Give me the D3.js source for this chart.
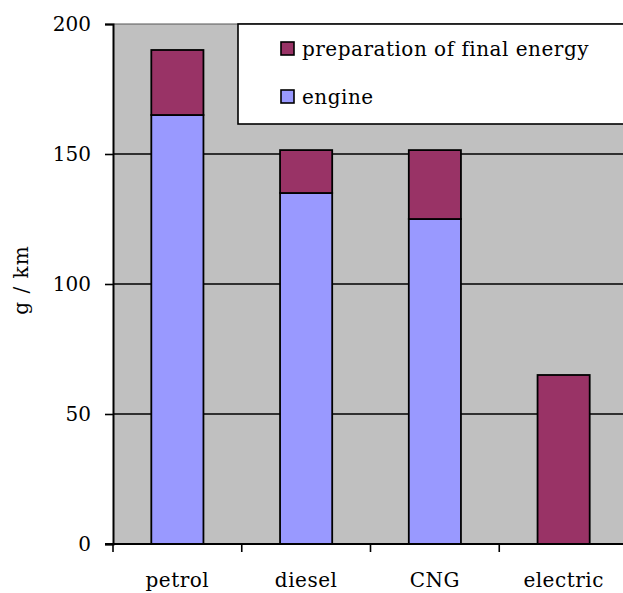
<!DOCTYPE html>
<html><head><meta charset="utf-8">
<script src="https://cdn.jsdelivr.net/npm/d3@7"></script>
<style>
html,body{margin:0;padding:0;background:#fff;}
svg{display:block;}
text{font-family:"DejaVu Serif","Liberation Serif",serif;fill:#000;}
</style></head>
<body>
<svg id="chart" width="623" height="593"></svg>
<script>
const categories = ["petrol", "diesel", "CNG", "electric"];
const engine = [165, 135, 125, 0];
const preparation = [25, 16.5, 26.5, 65];
const seriesNames = ["preparation of final energy", "engine"];
const yTicks = [0, 50, 100, 150, 200];
const yTitle = "g / km";

const svg = d3.select("#chart");
const pLeft = 113, pRight = 628, pTop = 24, pBottom = 544;
const colors = {engine: "#9999ff", preparation: "#993366"};
const FS = 20, LS = 0.5;

const x = d3.scaleBand().domain(categories).range([pLeft, pRight]).paddingInner(0).paddingOuter(0);
const y = d3.scaleLinear().domain([0, 200]).range([pBottom, pTop]);

// plot background
svg.append("rect").attr("x", pLeft).attr("y", pTop).attr("width", pRight - pLeft).attr("height", pBottom - pTop)
  .attr("fill", "#c0c0c0");

// gridlines
svg.append("g").selectAll("line").data(yTicks.filter(d => d > 0)).join("line")
  .attr("x1", pLeft).attr("x2", pRight)
  .attr("y1", d => y(d)).attr("y2", d => y(d))
  .attr("stroke", d => d === 200 ? "#555" : "#000").attr("stroke-width", d => d === 200 ? 1 : 1.6);

// bars
const data = categories.map((c, i) => ({c, engine: engine[i], prep: preparation[i]}));
const bw = x.bandwidth() * 0.405;
const bx = d => x(d.c) + (x.bandwidth() - bw) / 2;
const gb = svg.append("g");
gb.selectAll("rect.eng").data(data.filter(d => d.engine > 0)).join("rect").attr("class", "eng")
  .attr("x", bx).attr("width", bw)
  .attr("y", d => y(d.engine)).attr("height", d => y(0) - y(d.engine))
  .attr("fill", colors.engine).attr("stroke", "#000").attr("stroke-width", 1.8);
gb.selectAll("rect.prep").data(data).join("rect").attr("class", "prep")
  .attr("x", bx).attr("width", bw)
  .attr("y", d => y(d.engine + d.prep)).attr("height", d => y(d.engine) - y(d.engine + d.prep))
  .attr("fill", colors.preparation).attr("stroke", "#000").attr("stroke-width", 1.8);

// y axis
const yAxis = d3.axisLeft(y).tickValues(yTicks).tickSize(8).tickPadding(14);
const gy = svg.append("g").attr("transform", `translate(${pLeft},0)`).call(yAxis);
gy.select(".domain").attr("stroke", "#000").attr("stroke-width", 2);
gy.selectAll(".tick line").attr("stroke", "#000").attr("stroke-width", 1.6);
gy.selectAll(".tick text").attr("font-size", FS).attr("font-family", "DejaVu Serif");

// x axis
const xAxis = d3.axisBottom(x).tickSize(0).tickPadding(0);
const gx = svg.append("g").attr("transform", `translate(0,${pBottom})`).call(xAxis);
gx.select(".domain").remove();
gx.append("line").attr("x1", pLeft - 8).attr("x2", pRight).attr("y1", 0).attr("y2", 0)
  .attr("stroke", "#000").attr("stroke-width", 2);
gx.selectAll(".tick text").attr("font-size", FS).attr("font-family", "DejaVu Serif")
  .attr("letter-spacing", LS).attr("dy", null).attr("y", 43);
// boundary ticks
const bounds = categories.map(c => x(c));
gx.selectAll("line.bt").data(bounds).join("line").attr("class", "bt")
  .attr("x1", d => d).attr("x2", d => d).attr("y1", 0).attr("y2", 8)
  .attr("stroke", "#000").attr("stroke-width", 1.6);

// y title
svg.append("text").attr("transform", "translate(28,280) rotate(-90)")
  .attr("text-anchor", "middle").attr("font-size", FS).attr("letter-spacing", 1).text(yTitle);

// legend
const lg = svg.append("g");
lg.append("rect").attr("x", 238).attr("y", pTop).attr("width", 400).attr("height", 100)
  .attr("fill", "#fff").attr("stroke", "#000").attr("stroke-width", 1.6);
const legendItems = [{name: seriesNames[0], color: colors.preparation}, {name: seriesNames[1], color: colors.engine}];
const li = lg.selectAll("g.li").data(legendItems).join("g").attr("class", "li")
  .attr("transform", (d, i) => `translate(281,${42 + i * 48})`);
li.append("rect").attr("width", 13).attr("height", 13).attr("fill", d => d.color)
  .attr("stroke", "#000").attr("stroke-width", 1.6);
li.append("text").attr("x", 21).attr("y", 14).attr("font-size", FS).attr("letter-spacing", LS).text(d => d.name);
</script>
</body></html>
